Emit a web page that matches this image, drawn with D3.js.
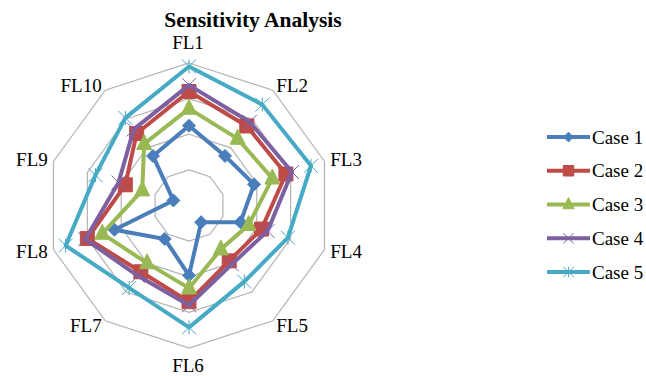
<!DOCTYPE html>
<html>
<head>
<meta charset="utf-8">
<script src="https://cdn.jsdelivr.net/npm/d3@7"></script>
<style>
  html, body { margin: 0; padding: 0; background: #fff; }
  svg { display: block; }
  text { font-family: "Liberation Serif", "Times New Roman", serif; fill: #000; }
</style>
</head>
<body>
<svg id="chart" width="646" height="376"></svg>
<script>
const title = "Sensitivity Analysis";
const categories = ["FL1", "FL2", "FL3", "FL4", "FL5", "FL6", "FL7", "FL8", "FL9", "FL10"];
const seriesNames = ["Case 1", "Case 2", "Case 3", "Case 4", "Case 5"];
const case1 = [0.56, 0.43, 0.48, 0.38, 0.145, 0.49, 0.29, 0.55, 0.115, 0.43];
const case2 = [0.80, 0.69, 0.715, 0.535, 0.48, 0.675, 0.575, 0.75, 0.47, 0.625];
const case3 = [0.68, 0.58, 0.615, 0.44, 0.38, 0.58, 0.50, 0.64, 0.345, 0.535];
const case4 = [0.845, 0.725, 0.76, 0.58, 0.51, 0.70, 0.61, 0.765, 0.52, 0.66];
const case5 = [0.975, 0.875, 0.90, 0.73, 0.66, 0.855, 0.715, 0.91, 0.69, 0.76];
const gridTicks = [0.25, 0.5, 0.75, 1.0];
const colors = ["#4a7ebb", "#be4b48", "#98b954", "#7d60a0", "#46aac5"];

const seriesValues = [case1, case2, case3, case4, case5];

const svg = d3.select("#chart");
const cx = 189, cy = 205.5, R = 142.5;

const r = d3.scaleLinear().domain([0, 1]).range([0, R]);
const angle = d3.scaleLinear().domain([0, categories.length]).range([0, 2 * Math.PI]);

function pt(i, v) {
  const a = angle(i);
  return [cx + r(v) * Math.sin(a), cy - r(v) * Math.cos(a)];
}

// grid rings
const gridG = svg.append("g");
gridTicks.forEach(t => {
  const pts = categories.map((c, i) => pt(i, t));
  gridG.append("path")
    .attr("d", d3.line()(pts) + "Z")
    .attr("fill", "none")
    .attr("stroke", "#b3b3b3")
    .attr("stroke-width", 1.2);
});

// category labels
const maxV = r.domain()[1];
svg.append("g").selectAll("text")
  .data(categories)
  .join("text")
  .each(function (d, i) {
    const a = angle(i);
    const s = Math.sin(a), c = Math.cos(a);
    const [vx, vy] = pt(i, maxV);
    const t = d3.select(this);
    if (Math.abs(s) < 0.1) {
      t.attr("x", vx - 1).attr("y", c > 0 ? vy - 21 : vy + 17).attr("text-anchor", "middle");
    } else {
      t.attr("x", vx + s * 6)
       .attr("y", vy - c * 6)
       .attr("text-anchor", s > 0 ? "start" : "end");
    }
  })
  .attr("dy", "0.35em")
  .attr("font-size", 19)
  .text(d => d);

// marker symbol types
const diamond = { draw(ctx, s) { ctx.moveTo(0, -s); ctx.lineTo(s, 0); ctx.lineTo(0, s); ctx.lineTo(-s, 0); ctx.closePath(); } };
const square = { draw(ctx, s) { ctx.rect(-s, -s, 2 * s, 2 * s); } };
const triangle = { draw(ctx, s) { ctx.moveTo(0, -s * 1.25); ctx.lineTo(s, s * 0.75); ctx.lineTo(-s, s * 0.75); ctx.closePath(); } };
const cross = { draw(ctx, s) { ctx.moveTo(-s, -s); ctx.lineTo(s, s); ctx.moveTo(-s, s); ctx.lineTo(s, -s); } };
const star = { draw(ctx, s) { ctx.moveTo(-s, -s); ctx.lineTo(s, s); ctx.moveTo(-s, s); ctx.lineTo(s, -s); ctx.moveTo(0, -s); ctx.lineTo(0, s); } };
const markers = [
  { type: diamond, size: 6.5, fill: true },
  { type: square, size: 7, fill: true },
  { type: triangle, size: 7.5, fill: true },
  { type: cross, size: 7, fill: false },
  { type: star, size: 7, fill: false }
];

const lineGen = d3.line().curve(d3.curveLinearClosed);

seriesValues.forEach((vals, si) => {
  const g = svg.append("g");
  const pts = vals.map((v, i) => pt(i, v));
  g.append("path")
    .attr("d", lineGen(pts))
    .attr("fill", "none")
    .attr("stroke", colors[si])
    .attr("stroke-width", 4)
    .attr("stroke-linejoin", "round");
  const m = markers[si];
  g.selectAll("path.mk")
    .data(pts)
    .join("path")
    .attr("class", "mk")
    .attr("transform", d => `translate(${d[0]},${d[1]})`)
    .attr("d", d3.symbol().type(m.type).size(m.size))
    .attr("fill", m.fill ? colors[si] : "none")
    .attr("stroke", colors[si])
    .attr("stroke-width", 1);
});

// title
svg.append("text")
  .attr("x", 253)
  .attr("y", 27)
  .attr("text-anchor", "middle")
  .attr("font-size", 21.5)
  .attr("font-weight", "bold")
  .text(title);

// legend
const legend = svg.append("g");
const ly = d3.scalePoint().domain(seriesNames).range([137, 272]);
seriesNames.forEach((name, si) => {
  const y = ly(name);
  legend.append("line")
    .attr("x1", 547).attr("x2", 590)
    .attr("y1", y).attr("y2", y)
    .attr("stroke", colors[si])
    .attr("stroke-width", 4);
  const m = markers[si];
  legend.append("path")
    .attr("transform", `translate(568.5,${y})`)
    .attr("d", d3.symbol().type(m.type).size(m.size * 0.75))
    .attr("fill", m.fill ? colors[si] : "none")
    .attr("stroke", colors[si])
    .attr("stroke-width", 1);
  legend.append("text")
    .attr("x", 592)
    .attr("y", y)
    .attr("dy", "0.35em")
    .attr("font-size", 19)
    .text(name);
});
</script>
</body>
</html>
